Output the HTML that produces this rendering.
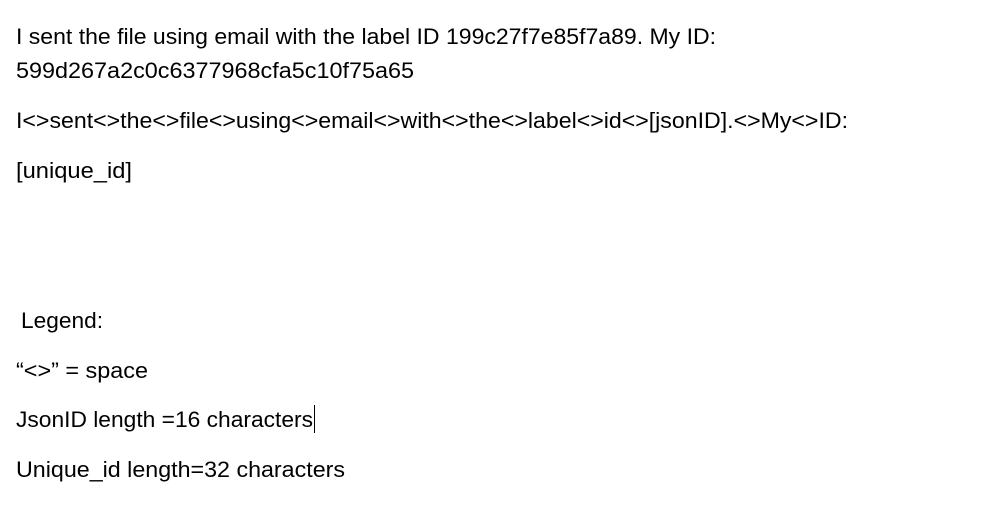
<!DOCTYPE html>
<html><head><meta charset="utf-8"><style>
html,body{margin:0;padding:0;background:#fff;width:985px;height:505px;overflow:hidden}
text{font-family:"Liberation Sans",sans-serif;font-size:22px;fill:#000}
</style></head><body>
<svg width="985" height="505" xmlns="http://www.w3.org/2000/svg">
<text x="16" y="44" textLength="700" lengthAdjust="spacingAndGlyphs">I sent the file using email with the label ID 199c27f7e85f7a89. My ID:</text>
<text x="16" y="78" textLength="398" lengthAdjust="spacingAndGlyphs">599d267a2c0c6377968cfa5c10f75a65</text>
<text x="16" y="128" textLength="832" lengthAdjust="spacingAndGlyphs">I&lt;&gt;sent&lt;&gt;the&lt;&gt;file&lt;&gt;using&lt;&gt;email&lt;&gt;with&lt;&gt;the&lt;&gt;label&lt;&gt;id&lt;&gt;[jsonID].&lt;&gt;My&lt;&gt;ID:</text>
<text x="16" y="178" textLength="116" lengthAdjust="spacingAndGlyphs">[unique_id]</text>
<text x="21" y="328" textLength="82" lengthAdjust="spacingAndGlyphs">Legend:</text>
<text x="16" y="378" textLength="132" lengthAdjust="spacingAndGlyphs">“&lt;&gt;” = space</text>
<text x="16" y="427" textLength="297" lengthAdjust="spacingAndGlyphs">JsonID length =16 characters</text>
<rect x="314" y="405" width="1" height="28" fill="#000"/>
<text x="16" y="477" textLength="329" lengthAdjust="spacingAndGlyphs">Unique_id length=32 characters</text>
</svg>
</body></html>
